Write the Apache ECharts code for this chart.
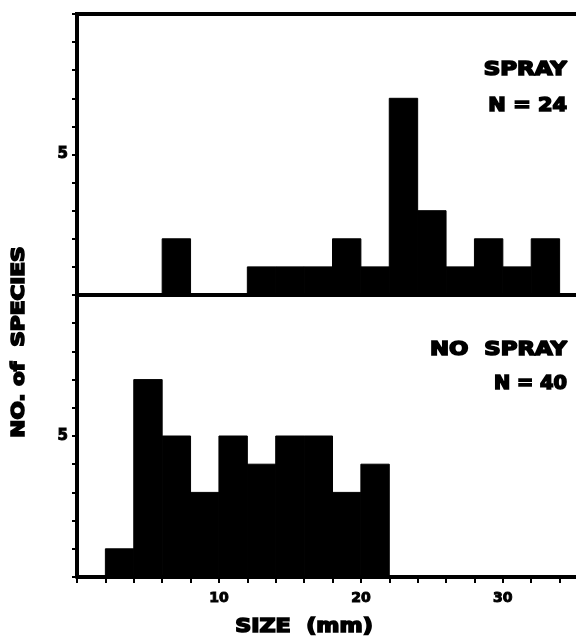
<!DOCTYPE html>
<html>
<head>
<meta charset="utf-8">
<script src="https://cdn.jsdelivr.net/npm/echarts@6/dist/echarts.min.js"></script>
<style>
  html, body { margin: 0; padding: 0; background: #fff; }
  #chart { width: 576px; height: 644px; }
</style>
</head>
<body>
<div id="chart"></div>
<script>
// every bin is 2 mm wide, arrays hold the lower edge of each bin
const binWidth = 2;
const sprayBins = [6, 12, 14, 16, 18, 20, 22, 24, 26, 28, 30, 32];
const sprayCounts = [2, 1, 1, 1, 2, 1, 7, 3, 1, 2, 1, 2];
const noSprayBins = [2, 4, 6, 8, 10, 12, 14, 16, 18, 20];
const noSprayCounts = [1, 7, 5, 3, 5, 4, 5, 5, 3, 4];
const xTickLabels = [10, 20, 30];
const yTickLabels = [5];

const FONT = '"DejaVu Sans", sans-serif';

const chart = echarts.init(document.getElementById('chart'), null, { renderer: 'canvas' });

function yAxis(idx) {
    return {
        gridIndex: idx,
        type: 'value',
        min: 0,
        max: 10,
        interval: 1,
        axisLine: { show: true, lineStyle: { color: '#000', width: 4 } },
        axisTick: { show: true, length: 5, lineStyle: { color: '#000', width: 2 } },
        axisLabel: {
            formatter: v => yTickLabels.includes(v) ? String(v) : '',
            margin: 9,
            color: '#000',
            fontSize: 15,
            fontWeight: 'bold',
            fontFamily: FONT,
            textBorderColor: '#000',
            textBorderWidth: 1
        },
        splitLine: { show: false }
    };
}

function xAxis(idx, withTicks) {
    return {
        gridIndex: idx,
        type: 'value',
        min: 0,
        max: 36,
        interval: 2,
        axisLine: { show: true, lineStyle: { color: '#000', width: 4 } },
        axisTick: { show: withTicks, length: 6, lineStyle: { color: '#000', width: 2 } },
        axisLabel: {
            show: withTicks,
            formatter: v => xTickLabels.includes(v) ? String(v) : '',
            margin: 14,
            color: '#000',
            fontSize: 14,
            fontWeight: 'bold',
            fontFamily: FONT,
            textBorderColor: '#000',
            textBorderWidth: 1
        },
        splitLine: { show: false }
    };
}

// histogram bars: one rect per bin, placed through the axis scales
function renderBin(params, api) {
    const start = api.value(0);
    const count = api.value(1);
    const p0 = api.coord([start, count]);
    const p1 = api.coord([start + binWidth, 0]);
    return {
        type: 'rect',
        shape: { x: p0[0], y: p0[1], width: p1[0] - p0[0], height: p1[1] - p0[1] },
        style: { fill: '#000', stroke: '#000', lineWidth: 1 }
    };
}

function label(text, x, y, size, sx, align, rot) {
    return {
        type: 'text',
        x: x,
        y: y,
        rotation: rot || 0,
        scaleX: sx,
        z: 10,
        style: {
            text: text,
            fill: '#000',
            stroke: '#000',
            lineWidth: 1.6,
            fontSize: size,
            fontWeight: 'bold',
            fontFamily: FONT,
            align: align,
            verticalAlign: 'middle'
        }
    };
}

const options = {
    animation: false,
    backgroundColor: '#fff',
    grid: [
        { left: 77, top: 14, width: 511, height: 281, show: true, borderColor: '#000', borderWidth: 4, outerBoundsMode: 'none' },
        { left: 77, top: 295, width: 511, height: 282, outerBoundsMode: 'none' }
    ],
    xAxis: [xAxis(0, false), xAxis(1, true)],
    yAxis: [yAxis(0), yAxis(1)],
    series: [
        {
            type: 'custom',
            xAxisIndex: 0,
            yAxisIndex: 0,
            renderItem: renderBin,
            encode: { x: 0, y: 1 },
            data: sprayBins.map((b, i) => [b, sprayCounts[i]])
        },
        {
            type: 'custom',
            xAxisIndex: 1,
            yAxisIndex: 1,
            renderItem: renderBin,
            encode: { x: 0, y: 1 },
            data: noSprayBins.map((b, i) => [b, noSprayCounts[i]])
        }
    ],
    graphic: [
        label('SPRAY', 567, 70, 19, 1.21, 'right'),
        label('N = 24', 567, 106, 19, 1.1, 'right'),
        label('NO  SPRAY', 567, 350, 19, 1.2, 'right'),
        label('N = 40', 567, 384, 19, 1.02, 'right'),
        label('SIZE  (mm)', 304, 627, 19, 1.17, 'center'),
        label('NO. of  SPECIES', 19, 342, 18, 1.2, 'center', Math.PI / 2)
    ]
};

chart.setOption(options);
</script>
</body>
</html>
